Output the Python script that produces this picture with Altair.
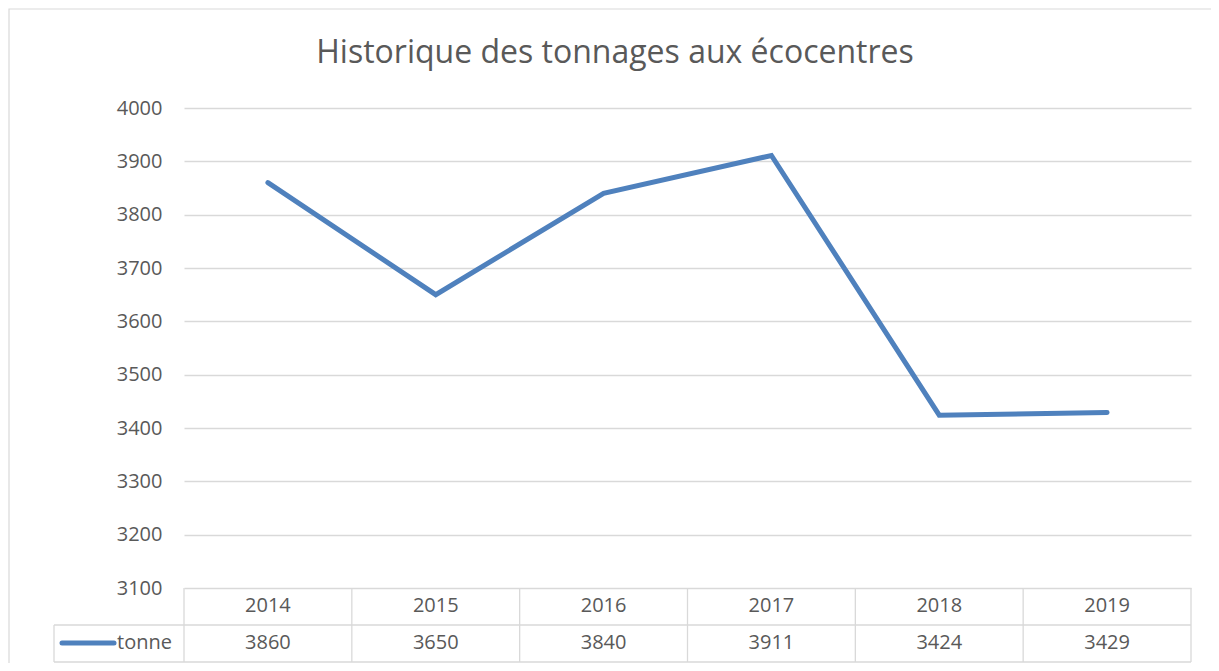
import altair as alt
import pandas as pd

years = ["2014", "2015", "2016", "2017", "2018", "2019"]
tonnes = [3860, 3650, 3840, 3911, 3424, 3429]
y_ticks = [3100, 3200, 3300, 3400, 3500, 3600, 3700, 3800, 3900, 4000]
title_text = "Historique des tonnages aux écocentres"
series_name = "tonne"

FONT = "Open Sans"
GREY = "#595959"
GRID = "#d9d9d9"
LINE = "#4f81bd"
FS = 20

df = pd.DataFrame({"year": years, "tonne": tonnes})

# plot area: page x 184..1191, y 108..588
PW, PH = 1007, 480
LEFT, TOP = 176, 100
TOTAL_W, TOTAL_H = 1203, 655

xscale = alt.Scale(domain=years, paddingInner=0, paddingOuter=0)
yscale = alt.Scale(domain=[3100, 4000])

base = alt.Chart(df)

# outer chart border
border = alt.Chart(pd.DataFrame({"a": [0]})).mark_rect(
    fill="transparent", stroke=GRID, strokeWidth=1.2
).encode(
    x=alt.value(9 - 184), x2=alt.value(1240 - 184),
    y=alt.value(9 - 108), y2=alt.value(700 - 108),
)

title = alt.Chart(pd.DataFrame({"t": [title_text]})).mark_text(
    font=FONT, fontSize=32, color=GREY, align="center", baseline="middle"
).encode(text="t:N", x=alt.value(615 - 184), y=alt.value(53 - 108))

line = base.mark_line(color=LINE, strokeWidth=5, strokeCap="round", strokeJoin="miter").encode(
    x=alt.X("year:N", scale=xscale, sort=years, axis=None),
    y=alt.Y("tonne:Q", scale=yscale, axis=alt.Axis(
        values=y_ticks, format="d", grid=True, gridColor=GRID, gridWidth=1.3,
        domain=False, ticks=False, labelFont=FONT, labelFontSize=FS,
        labelColor=GREY, labelPadding=22, title=None)),
)

row1_bot, row2_bot = 625 - 108, 662 - 108
vlines = base.mark_rule(color=GRID, strokeWidth=1.3).encode(
    x=alt.X("year:N", scale=xscale, sort=years, bandPosition=0),
    y=alt.value(PH), y2=alt.value(row2_bot),
)
vline_last = alt.Chart(pd.DataFrame({"year": [years[-1]]})).mark_rule(color=GRID, strokeWidth=1.3).encode(
    x=alt.X("year:N", scale=xscale, sort=years, bandPosition=1),
    y=alt.value(PH), y2=alt.value(row2_bot),
)
hlines = alt.Chart(pd.DataFrame({"r": [row1_bot, row2_bot]})).mark_rule(color=GRID, strokeWidth=1.3).encode(
    x=alt.value(54 - 184), x2=alt.value(PW), y=alt.Y("r:Q", scale=None),
)
legend_left = alt.Chart(pd.DataFrame({"a": [0]})).mark_rule(color=GRID, strokeWidth=1.3).encode(
    x=alt.value(54 - 184), y=alt.value(row1_bot), y2=alt.value(row2_bot),
)

year_text = base.mark_text(font=FONT, fontSize=FS, color=GREY, baseline="middle").encode(
    x=alt.X("year:N", scale=xscale, sort=years), y=alt.value(606 - 108), text="year:N",
)
val_text = base.mark_text(font=FONT, fontSize=FS, color=GREY, baseline="middle").encode(
    x=alt.X("year:N", scale=xscale, sort=years), y=alt.value(643 - 108), text="tonne:Q",
)

legend_line = alt.Chart(pd.DataFrame({"a": [0]})).mark_rule(color=LINE, strokeWidth=5, strokeCap="round").encode(
    x=alt.value(62 - 184), x2=alt.value(114 - 184), y=alt.value(643 - 108),
)
legend_text = alt.Chart(pd.DataFrame({"s": [series_name]})).mark_text(
    font=FONT, fontSize=FS, color=GREY, align="left", baseline="middle"
).encode(text="s:N", x=alt.value(117 - 184), y=alt.value(643 - 108))

chart = alt.layer(
    border, title, line, vlines, vline_last, hlines, legend_left,
    year_text, val_text, legend_line, legend_text,
).properties(
    width=PW, height=PH,
    autosize=alt.AutoSizeParams(type="none"),
    padding={"left": LEFT, "top": TOP, "right": TOTAL_W - LEFT - PW, "bottom": TOTAL_H - TOP - PH},
).configure_view(stroke=None)

chart.save("out.html", embed_options={"renderer": "svg", "actions": False})
